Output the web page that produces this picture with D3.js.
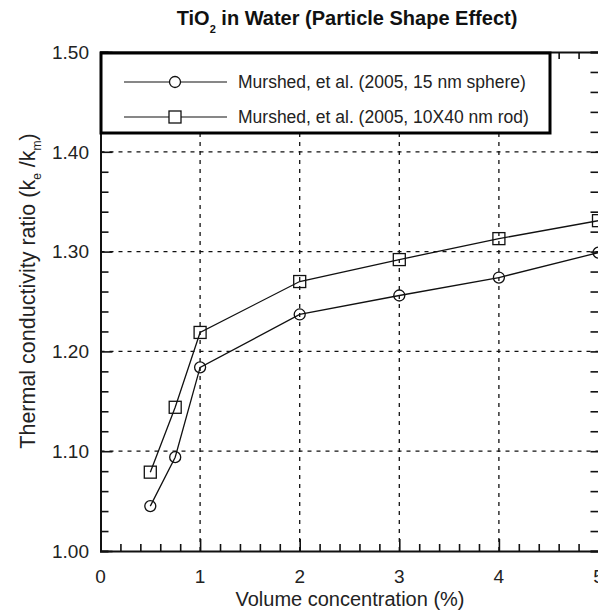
<!DOCTYPE html>
<html><head><meta charset="utf-8">
<script src="https://cdn.jsdelivr.net/npm/d3@7"></script>
<style>body{margin:0;background:#fff} svg{display:block}</style>
</head><body><div id="chart"></div>
<script>
const concentration = [0.5, 0.75, 1, 2, 3, 4, 5];
const sphereRatio = [1.045, 1.094, 1.184, 1.237, 1.256, 1.274, 1.299];
const rodRatio = [1.079, 1.144, 1.219, 1.270, 1.292, 1.313, 1.331];
const seriesNames = ["Murshed, et al. (2005, 15 nm sphere)", "Murshed, et al. (2005, 10X40 nm rod)"];
const seriesMarkers = ["circle", "square"];
const xTicks = [0, 1, 2, 3, 4, 5];
const yTicks = [1.0, 1.1, 1.2, 1.3, 1.4, 1.5];
const xGrid = [1, 2, 3, 4];
const yGrid = [1.1, 1.2, 1.3, 1.4];

const W = 598, H = 610;
const FONT = "'Liberation Sans', Arial, Helvetica, sans-serif";
const svg = d3.select("#chart").append("svg").attr("width", W).attr("height", H)
  .style("font-family", FONT);

const x = d3.scaleLinear().domain([0, 5]).range([100.5, 598.5]);
const y = d3.scaleLinear().domain([1.0, 1.5]).range([551, 52]);

// gridlines
const g = svg.append("g");
g.selectAll("line.vg").data(xGrid).join("line")
  .attr("x1", d => x(d)).attr("x2", d => x(d))
  .attr("y1", y(1.0)).attr("y2", y(1.5))
  .attr("stroke", "#111").attr("stroke-width", 1.3).attr("stroke-dasharray", "4,5");
g.selectAll("line.hg").data(yGrid).join("line")
  .attr("y1", d => y(d)).attr("y2", d => y(d))
  .attr("x1", x(0)).attr("x2", x(5))
  .attr("stroke", "#111").attr("stroke-width", 1.3).attr("stroke-dasharray", "4,5");

// axes with inward ticks
const xMinor = d3.range(0, 5.0001, 0.2);
const yMinor = d3.range(1.0, 1.5001, 0.02);
function isMajorX(v){ return Math.abs(v - Math.round(v)) < 1e-6; }
function isMajorY(v){ return Math.abs(v*10 - Math.round(v*10)) < 1e-6; }

const axB = svg.append("g").attr("transform", `translate(0,${y(1.0)})`)
  .call(d3.axisBottom(x).tickValues(xMinor).tickSize(-7).tickFormat(""));
axB.selectAll(".tick line").attr("y2", d => isMajorX(d) ? -12 : -7);
const axT = svg.append("g").attr("transform", `translate(0,${y(1.5)})`)
  .call(d3.axisTop(x).tickValues(xMinor).tickSize(-7).tickFormat(""));
const axL = svg.append("g").attr("transform", `translate(${x(0)},0)`)
  .call(d3.axisLeft(y).tickValues(yMinor).tickSize(-8).tickFormat(""));
axL.selectAll(".tick line").attr("x2", d => isMajorY(d) ? 12 : 8);
const axR = svg.append("g").attr("transform", `translate(${x(5)},0)`)
  .call(d3.axisRight(y).tickValues(yMinor).tickSize(-8).tickFormat(""));
[axB, axT, axL, axR].forEach(a => {
  a.selectAll(".tick line").attr("stroke", "#111").attr("stroke-width", 1.6);
  a.select(".domain").attr("stroke", "#111").attr("stroke-width", 2);
});

// tick labels
svg.append("g").selectAll("text").data(xTicks).join("text")
  .attr("x", d => x(d)).attr("y", 583).attr("text-anchor", "middle")
  .attr("font-size", 19).attr("fill", "#222").text(d => d3.format("d")(d));
svg.append("g").selectAll("text").data(yTicks).join("text")
  .attr("x", 89).attr("y", d => y(d)).attr("dy", "0.36em").attr("text-anchor", "end")
  .attr("font-size", 19).attr("fill", "#222").text(d => d3.format(".2f")(d));

// axis titles
svg.append("text").attr("x", 350).attr("y", 606).attr("text-anchor", "middle")
  .attr("font-size", 20).attr("fill", "#222").text("Volume concentration (%)");
const yt = svg.append("text").attr("transform", "translate(35,291) rotate(-90)")
  .attr("text-anchor", "middle").attr("font-size", 21.5).attr("fill", "#222");
yt.append("tspan").text("Thermal conductivity ratio (k");
yt.append("tspan").attr("font-size", 12).attr("dy", 6).text("e");
yt.append("tspan").attr("dy", -6).text(" /k");
yt.append("tspan").attr("font-size", 12).attr("dy", 6).text("m");
yt.append("tspan").attr("dy", -6).text(")");

// title
const tt = svg.append("text").attr("x", 347).attr("y", 25).attr("text-anchor", "middle")
  .attr("font-size", 20).attr("font-weight", "bold").attr("fill", "#111");
tt.append("tspan").text("TiO");
tt.append("tspan").attr("font-size", 11).attr("dy", 8).text("2");
tt.append("tspan").attr("dy", -8).text(" in Water (Particle Shape Effect)");

// series
const series = [sphereRatio, rodRatio].map((vals, i) => ({
  name: seriesNames[i], marker: seriesMarkers[i],
  pts: concentration.map((c, j) => ({x: c, y: vals[j]}))
}));
const line = d3.line().x(d => x(d.x)).y(d => y(d.y));
function drawMarker(sel, type, fill) {
  if (type === "circle") {
    sel.append("circle").attr("r", 5.5).attr("fill", fill).attr("stroke", "#111").attr("stroke-width", 1.3);
  } else {
    sel.append("rect").attr("x", -6).attr("y", -6).attr("width", 12).attr("height", 12)
      .attr("fill", fill).attr("stroke", "#111").attr("stroke-width", 1.3);
  }
}
series.forEach(s => {
  svg.append("path").datum(s.pts).attr("d", line).attr("fill", "none")
    .attr("stroke", "#111").attr("stroke-width", 1.3);
  s.pts.forEach(p => {
    const m = svg.append("g").attr("transform", `translate(${x(p.x)},${y(p.y)})`);
    drawMarker(m, s.marker, "none");
  });
});

// legend
const lg = svg.append("g");
lg.append("rect").attr("x", 101).attr("y", 53).attr("width", 449).attr("height", 80)
  .attr("fill", "#fff").attr("stroke", "#000").attr("stroke-width", 3);
series.forEach((s, i) => {
  const ly = 82 + i * 35;
  lg.append("line").attr("x1", 124).attr("x2", 227).attr("y1", ly).attr("y2", ly)
    .attr("stroke", "#111").attr("stroke-width", 1.2);
  const m = lg.append("g").attr("transform", `translate(175,${ly})`);
  drawMarker(m, s.marker, "#fff");
  lg.append("text").attr("x", 238).attr("y", ly).attr("dy", "0.36em")
    .attr("font-size", 17.5).attr("fill", "#222").text(s.name);
});
</script></body></html>
